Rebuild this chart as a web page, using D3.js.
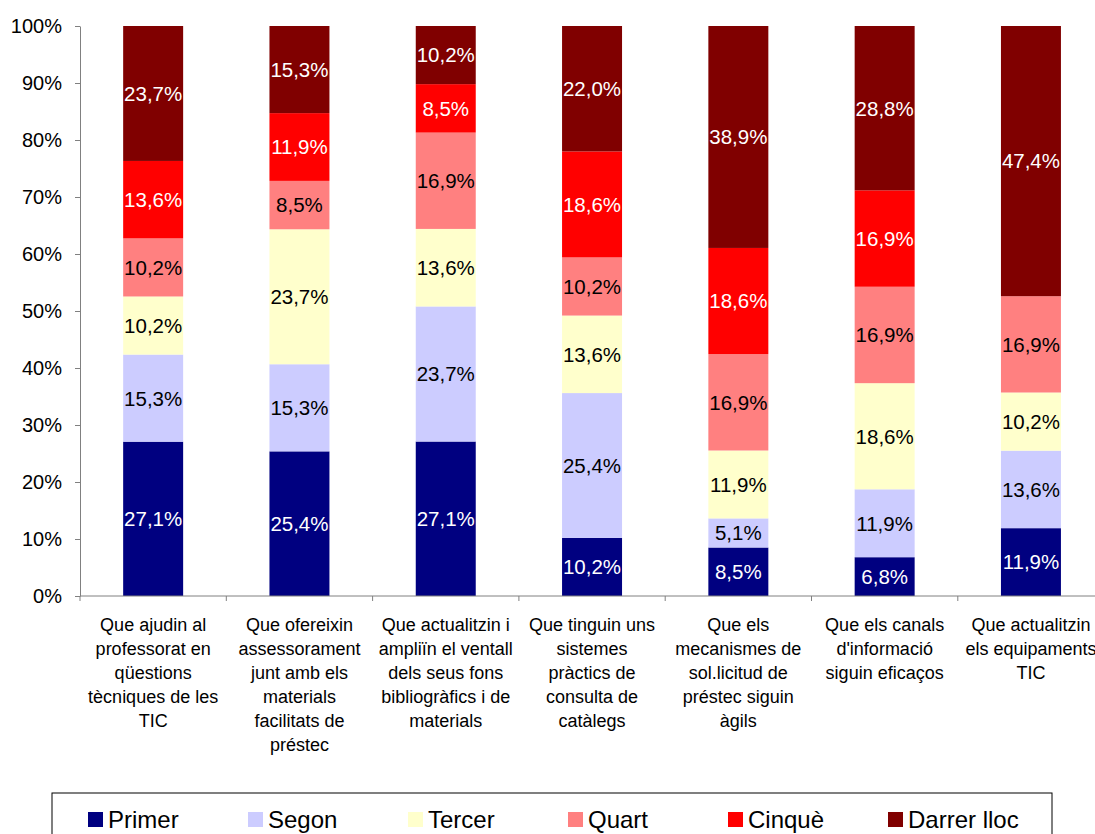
<!DOCTYPE html>
<html>
<head>
<meta charset="utf-8">
<script src="https://cdn.jsdelivr.net/npm/d3@7"></script>
<style>
  body { margin: 0; background: #fff; }
  svg { display: block; font-family: "Liberation Sans", Arial, sans-serif; }
</style>
</head>
<body>
<div id="chart"></div>
<script>
// categories, as wrapped in the picture
var categories = [
  ["Que ajudin al", "professorat en", "qüestions", "tècniques de les", "TIC"],
  ["Que ofereixin", "assessorament", "junt amb els", "materials", "facilitats de", "préstec"],
  ["Que actualitzin i", "ampliïn el ventall", "dels seus fons", "bibliogràfics i de", "materials"],
  ["Que tinguin uns", "sistemes", "pràctics de", "consulta de", "catàlegs"],
  ["Que els", "mecanismes de", "sol.licitud de", "préstec siguin", "àgils"],
  ["Que els canals", "d'informació", "siguin eficaços"],
  ["Que actualitzin", "els equipaments", "TIC"]
];

var seriesNames = ["Primer", "Segon", "Tercer", "Quart", "Cinquè", "Darrer lloc"];

// percentages per category, one array per series
var primer  = [27.1, 25.4, 27.1, 10.2,  8.5,  6.8, 11.9];
var segon   = [15.3, 15.3, 23.7, 25.4,  5.1, 11.9, 13.6];
var tercer  = [10.2, 23.7, 13.6, 13.6, 11.9, 18.6, 10.2];
var quart   = [10.2,  8.5, 16.9, 10.2, 16.9, 16.9, 16.9];
var cinque  = [13.6, 11.9,  8.5, 18.6, 18.6, 16.9,  0];
var darrer  = [23.7, 15.3, 10.2, 22.0, 38.9, 28.8, 47.4];

var yTicks = [0, 10, 20, 30, 40, 50, 60, 70, 80, 90, 100];

var colors = ["#000080", "#ccccff", "#ffffcc", "#ff8080", "#ff0000", "#800000"];
var labelColors = ["#fff", "#000", "#000", "#000", "#fff", "#fff"];

var allSeries = [primer, segon, tercer, quart, cinque, darrer];

var width = 1095, height = 834;
var margin = {top: 26, left: 80};
var plotW = 146.3 * 7, plotH = 570;

var svg = d3.select("#chart").append("svg")
  .attr("width", width)
  .attr("height", height);

var g = svg.append("g")
  .attr("transform", "translate(" + margin.left + "," + margin.top + ")");

var rows = categories.map(function(c, i) {
  var r = {i: i};
  seriesNames.forEach(function(s, k) { r[s] = allSeries[k][i]; });
  return r;
});

var stacked = d3.stack().keys(seriesNames).offset(d3.stackOffsetExpand)(rows);

var x = d3.scaleBand()
  .domain(d3.range(categories.length))
  .range([0, plotW])
  .paddingInner(0.59)
  .paddingOuter(0.295);

var y = d3.scaleLinear().domain([0, 1]).range([plotH, 0]);

// bars
var layers = g.selectAll("g.layer")
  .data(stacked)
  .enter().append("g")
  .attr("class", "layer")
  .attr("fill", function(d, k) { return colors[k]; });

layers.selectAll("rect")
  .data(function(d) { return d; })
  .enter().append("rect")
  .attr("x", function(d) { return x(d.data.i); })
  .attr("y", function(d) { return y(d[1]); })
  .attr("width", x.bandwidth())
  .attr("height", function(d) { return y(d[0]) - y(d[1]); });

// value labels
stacked.forEach(function(layer, k) {
  g.append("g").selectAll("text")
    .data(layer.filter(function(d) { return d.data[layer.key] > 0; }))
    .enter().append("text")
    .attr("x", function(d) { return x(d.data.i) + x.bandwidth() / 2; })
    .attr("y", function(d) { return y((d[0] + d[1]) / 2); })
    .attr("dy", "0.36em")
    .attr("text-anchor", "middle")
    .style("font-size", "20.5px")
    .style("fill", labelColors[k])
    .text(function(d) { return d.data[layer.key].toFixed(1).replace(".", ",") + "%"; });
});

// y axis
var yAxis = g.append("g")
  .call(d3.axisLeft(y)
    .tickValues(yTicks.map(function(t) { return t / 100; }))
    .tickFormat(function(d) { return Math.round(d * 100) + "%"; })
    .tickSize(5)
    .tickSizeOuter(0));
yAxis.selectAll("text").style("font-size", "20px").style("fill", "#000").attr("x", -18);
yAxis.selectAll("line, path").attr("stroke", "#808080");

// x axis line with category separator ticks
var xAxis = g.append("g").attr("transform", "translate(0," + plotH + ")");
xAxis.append("line")
  .attr("x1", 0).attr("x2", plotW)
  .attr("stroke", "#808080");
xAxis.selectAll("line.sep")
  .data(d3.range(categories.length + 1))
  .enter().append("line")
  .attr("class", "sep")
  .attr("x1", function(i) { return i * x.step(); })
  .attr("x2", function(i) { return i * x.step(); })
  .attr("y1", 0).attr("y2", 5)
  .attr("stroke", "#808080");

xAxis.selectAll("text.cat")
  .data(categories)
  .enter().append("text")
  .attr("class", "cat")
  .attr("text-anchor", "middle")
  .style("font-size", "18px")
  .attr("transform", function(d, i) { return "translate(" + (x(i) + x.bandwidth() / 2) + ",35)"; })
  .selectAll("tspan")
  .data(function(d) { return d; })
  .enter().append("tspan")
  .attr("x", 0)
  .attr("y", function(d, j) { return j * 24; })
  .text(function(d) { return d; });

// legend
var legend = svg.append("g").attr("transform", "translate(52,793)");
legend.append("rect")
  .attr("width", 1000).attr("height", 60)
  .attr("fill", "none")
  .attr("stroke", "#000");

var item = legend.selectAll("g.item")
  .data(seriesNames)
  .enter().append("g")
  .attr("class", "item")
  .attr("transform", function(d, k) { return "translate(" + (36 + k * 160) + ",19)"; });
item.append("rect")
  .attr("width", 15).attr("height", 15)
  .attr("fill", function(d, k) { return colors[k]; });
item.append("text")
  .attr("x", 20).attr("y", 7.5).attr("dy", "0.36em")
  .style("font-size", "24px")
  .text(function(d) { return d; });
</script>
</body>
</html>
